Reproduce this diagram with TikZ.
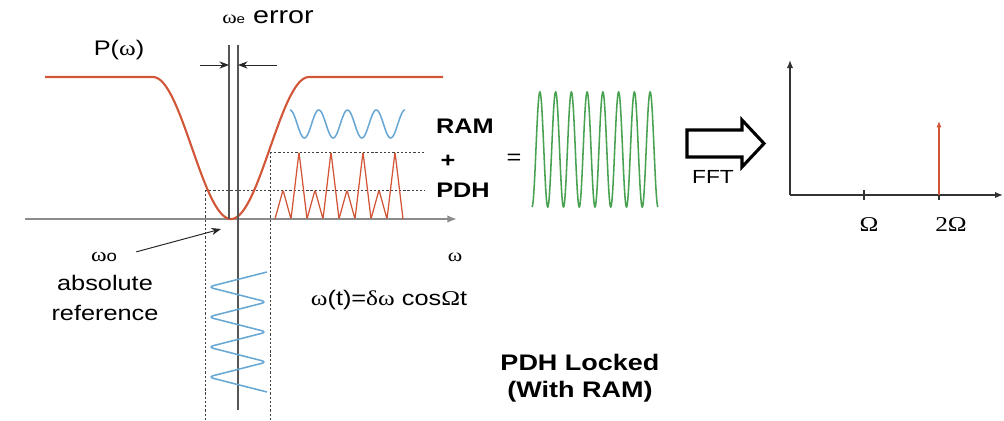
\documentclass[tikz,border=0pt]{standalone}
\usepackage{fontspec}
\setmainfont{Liberation Sans}[FakeStretch=1.2]
\newfontfamily\grk{Liberation Serif}[FakeStretch=1.2]
\usetikzlibrary{arrows.meta}

\definecolor{dipred}{RGB}{210,86,56}
\definecolor{ramblue}{RGB}{105,168,212}
\definecolor{sumgreen}{RGB}{72,162,82}
\definecolor{axisgray}{RGB}{140,140,140}
\definecolor{linegray}{RGB}{85,85,85}

\begin{document}
\begin{tikzpicture}[
  x=0.025cm, y=-0.025cm,
  txt/.style={font=\fontsize{15}{18}\selectfont, inner sep=0pt},
  bold/.style={font=\fontsize{15}{18}\selectfont\bfseries, inner sep=0pt},
  serif/.style={font=\fontsize{15}{18}\selectfont\grk, inner sep=0pt},
  axis/.style={axisgray, line width=1.8pt, -{Latex[length=2.4mm, width=1.9mm]}},
  dip/.style={dipred, line width=1.5pt},
  vline/.style={linegray, line width=1pt},
  guide/.style={black!75, line width=0.7pt, dash pattern=on 1.6pt off 1.4pt},
  ptr/.style={black!85, line width=0.7pt, -{Stealth[length=2.4mm, width=1.8mm]}},
  ram/.style={ramblue, line width=1.1pt},
  pdh/.style={dipred, line width=0.9pt, rounded corners=1pt},
  sum/.style={sumgreen, line width=1.1pt},
  saxis/.style={black!80, line width=1pt},
  stem/.style={dipred, line width=1.3pt, -{Latex[length=1.6mm, width=1.3mm]}},
]
\useasboundingbox (0,0) rectangle (1004,420);

% ---------------- guides -------------------------------------------------
\draw[guide] (205,190) -- (425,190);
\draw[guide] (270,152) -- (425,152);
\draw[guide] (205,190) -- (205,420);
\draw[guide] (270,152) -- (270,420);

% ---------------- frequency axis ----------------------------------------
\coordinate (ax0) at (25,219);
\coordinate (ax1) at (457,219);
\draw[axis] (ax0) -- (ax1);
\node[serif, font=\fontsize{13}{13}\selectfont\grk] (lw) at (455,257) {ω};

% ---------------- cavity reflection dip P(omega) ------------------------
\draw[dip] (45,77) -- (153,77)
  -- plot[domain=153:309, samples=90] (\x, {77+71*(1+cos(180*(\x-231)/78))})
  -- (443,77);
\node[txt] (ppw) at (119,50) {P({\grk ω})};

% ---------------- lock point and error ----------------------------------
\draw[vline] (229,45) -- (229,219);
\draw[vline] (238,45) -- (238,410);
\coordinate (el) at (200,65);
\coordinate (er) at (277,65);
\coordinate (vl) at (229,65);
\coordinate (vr) at (238,65);
\draw[ptr] (el) -- (vl);
\draw[ptr] (er) -- (vr);
\node[txt, font=\fontsize{17}{18}\selectfont] (perr) at (268,17)
  {{\fontsize{13}{13}\selectfont\grk ω}{\fontsize{9}{9}\selectfont e} error};

% ---------------- frequency modulation ----------------------------------
\draw[ram, rounded corners=4pt] (267,272)
  \foreach \k in {0,...,3} { -- (208,{287+30*\k}) -- (267,{302+30*\k}) };
\node[txt] (lmod) at (389,300)
  {{\grk ω}(t)={\grk δω} cos{\grk Ω}t};

% ---------------- absolute reference ------------------------------------
\node[txt, font=\fontsize{14}{14}\selectfont] (lw0) at (104,257)
  {{\grk ω}{\fontsize{11}{11}\selectfont o}};
\node[txt, font=\fontsize{15}{21}\selectfont, align=center] (labs) at (105,298)
  {absolute\\reference};
\coordinate (w0tip) at (221,229);
\draw[ptr, shorten <=14pt] (lw0.east) -- (w0tip);

% ---------------- RAM + PDH signals -------------------------------------
\draw[ram] plot[domain=290:405, samples=160]
  (\x, {124-14*cos(12.52*(\x-290))});
\draw[pdh] (275,219)
  \foreach \k in {0,...,7} { -- ({283+16*\k},{171+19*cos(180*\k)}) -- ({291+16*\k},219) };
\node[bold] (lram) at (465,126) {RAM};
\node[bold] (lplus) at (448,161) {+};
\node[bold] (lpdh) at (463,190) {PDH};
\node[txt] (leq) at (514,159) {=};

% ---------------- sum signal --------------------------------------------
\draw[sum] plot[domain=532:658, samples=400]
  (\x, {149.5+57.5*cos(22.857*(\x-532))});

% ---------------- FFT arrow ---------------------------------------------
\draw[black, line width=2.2pt, line join=miter, fill=white]
  (687,130) -- (742,130) -- (742,120) -- (764,143.5)
  -- (742,167) -- (742,157) -- (687,157) -- cycle;
\node[txt, font=\fontsize{13.5}{14}\selectfont] (lfft) at (713,177) {FFT};

% ---------------- spectrum ----------------------------------------------
\coordinate (so) at (790,195);
\coordinate (sy) at (790,60);
\coordinate (sx) at (1003,195);
\draw[saxis, -{Latex[length=2mm, width=1.6mm]}] (so) -- (sy);
\draw[saxis, -{Latex[length=2mm, width=1.6mm]}] (so) -- (sx);
\foreach \t in {864, 939} {
  \draw[saxis] (\t,190) -- (\t,200);
}
\coordinate (s2) at (939,195);
\coordinate (s2top) at (939,121);
\draw[stem] (s2) -- (s2top);
\node[serif] (lom1) at (869,225) {Ω};
\node[serif] (lom2) at (951,225) {2Ω};

% ---------------- caption -----------------------------------------------
\node[bold, font=\fontsize{16}{19}\selectfont\bfseries, align=center] (llock)
  at (580,378) {PDH Locked\\(With RAM)};

\end{tikzpicture}
\end{document}
